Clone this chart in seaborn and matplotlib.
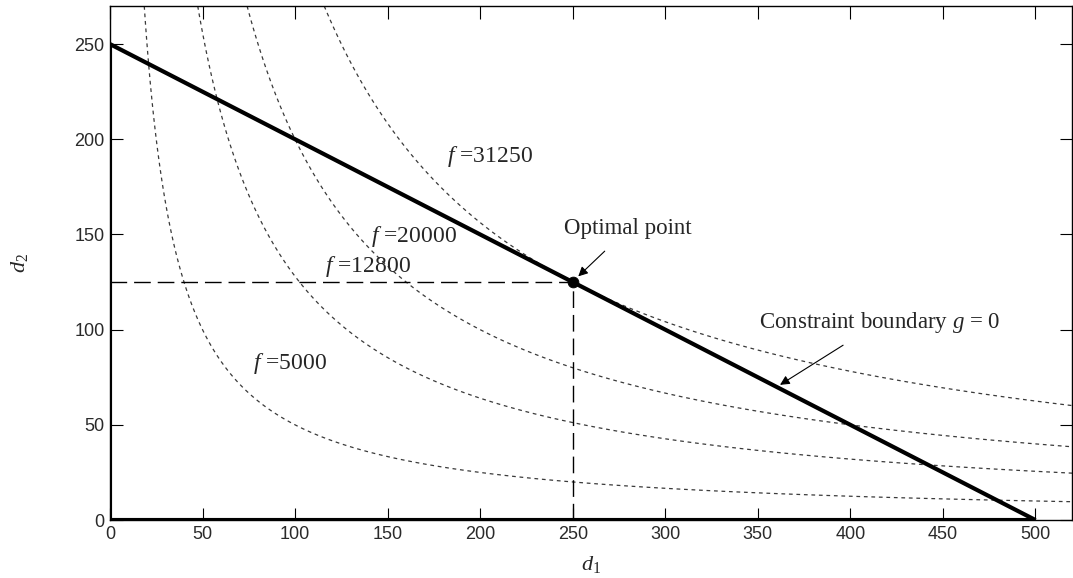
import numpy as np
import pandas as pd
import matplotlib
matplotlib.use("Agg")
import matplotlib.pyplot as plt
import seaborn as sns

# DATA ===========================================================================
f_levels = [5000, 12800, 20000, 31250]
f_label_x = [77, 116, 141, 182]
f_label_y = [82, 133, 149, 191]
boundary_d1 = [0, 0, 500, 0]
boundary_d2 = [0, 250, 0, 0]
optimum_d1 = 250
optimum_d2 = 125
x_ticks = [0, 50, 100, 150, 200, 250, 300, 350, 400, 450, 500]
y_ticks = [0, 50, 100, 150, 200, 250]

# PLOTTER ========================================================================
sns.set_style("ticks")
plt.rcParams["font.family"] = ["Liberation Sans", "DejaVu Sans"]
plt.rcParams["mathtext.fontset"] = "custom"
plt.rcParams["mathtext.it"] = "Liberation Serif:italic"
plt.rcParams["mathtext.rm"] = "Liberation Serif"

fig = plt.figure(figsize=(10.73, 5.78), dpi=100)
ax = fig.add_axes([0.1025, 0.1003, 0.8970, 0.8893])

# objective contours f = d1*d2
d1 = np.linspace(1, 520, 600)
d2 = np.linspace(1, 270, 600)
D1, D2 = np.meshgrid(d1, d2)
ax.contour(D1, D2, D1 * D2, levels=f_levels, colors="#3a3a3a",
           linewidths=0.9, linestyles=[(0, (3, 3))])

# feasible region boundary
bnd = pd.DataFrame({"d1": boundary_d1, "d2": boundary_d2})
ax.plot(bnd["d1"], bnd["d2"], color="black", lw=3, solid_joinstyle="miter", zorder=4)

# projection lines to optimum
ax.plot([0, optimum_d1], [optimum_d2, optimum_d2], color="black", lw=1,
        linestyle=(0, (12, 5)))
ax.plot([optimum_d1, optimum_d1], [0, optimum_d2], color="black", lw=1,
        linestyle=(0, (12, 5)))
sns.scatterplot(x=[optimum_d1], y=[optimum_d2], color="black", s=60, ax=ax, zorder=5,
                edgecolor="black")

for lvl, lx, ly in zip(f_levels, f_label_x, f_label_y):
    ax.text(lx, ly, f"$f$ ={lvl}", fontsize=17, family="Liberation Serif",
            va="center", ha="left")

ax.annotate("Optimal point", xy=(253, 128), xytext=(280, 153),
            fontsize=16.5, family="Liberation Serif", ha="center", va="center",
            arrowprops=dict(arrowstyle="-|>", color="black", lw=0.8,
                            shrinkA=9, shrinkB=0, mutation_scale=14))
ax.annotate("Constraint boundary $g$ = 0", xy=(362, 71), xytext=(416, 104),
            fontsize=16.5, family="Liberation Serif", ha="center", va="center",
            arrowprops=dict(arrowstyle="-|>", color="black", lw=0.8,
                            shrinkA=10, shrinkB=0, mutation_scale=14))

ax.set_xlim(0, 520)
ax.set_ylim(0, 270)
ax.set_xticks(x_ticks)
ax.set_yticks(y_ticks)
ax.tick_params(direction="in", length=9, width=0.8, top=True, right=True,
               labelsize=13, colors="black", labelcolor="#2a2a2a", pad=4)
for s in ax.spines.values():
    s.set_linewidth(1)
    s.set_color("black")
ax.set_xlabel("$d_1$", fontsize=16, labelpad=8)
ax.set_ylabel("$d_2$", fontsize=16, labelpad=32)

fig.savefig("out.png", dpi=100)
